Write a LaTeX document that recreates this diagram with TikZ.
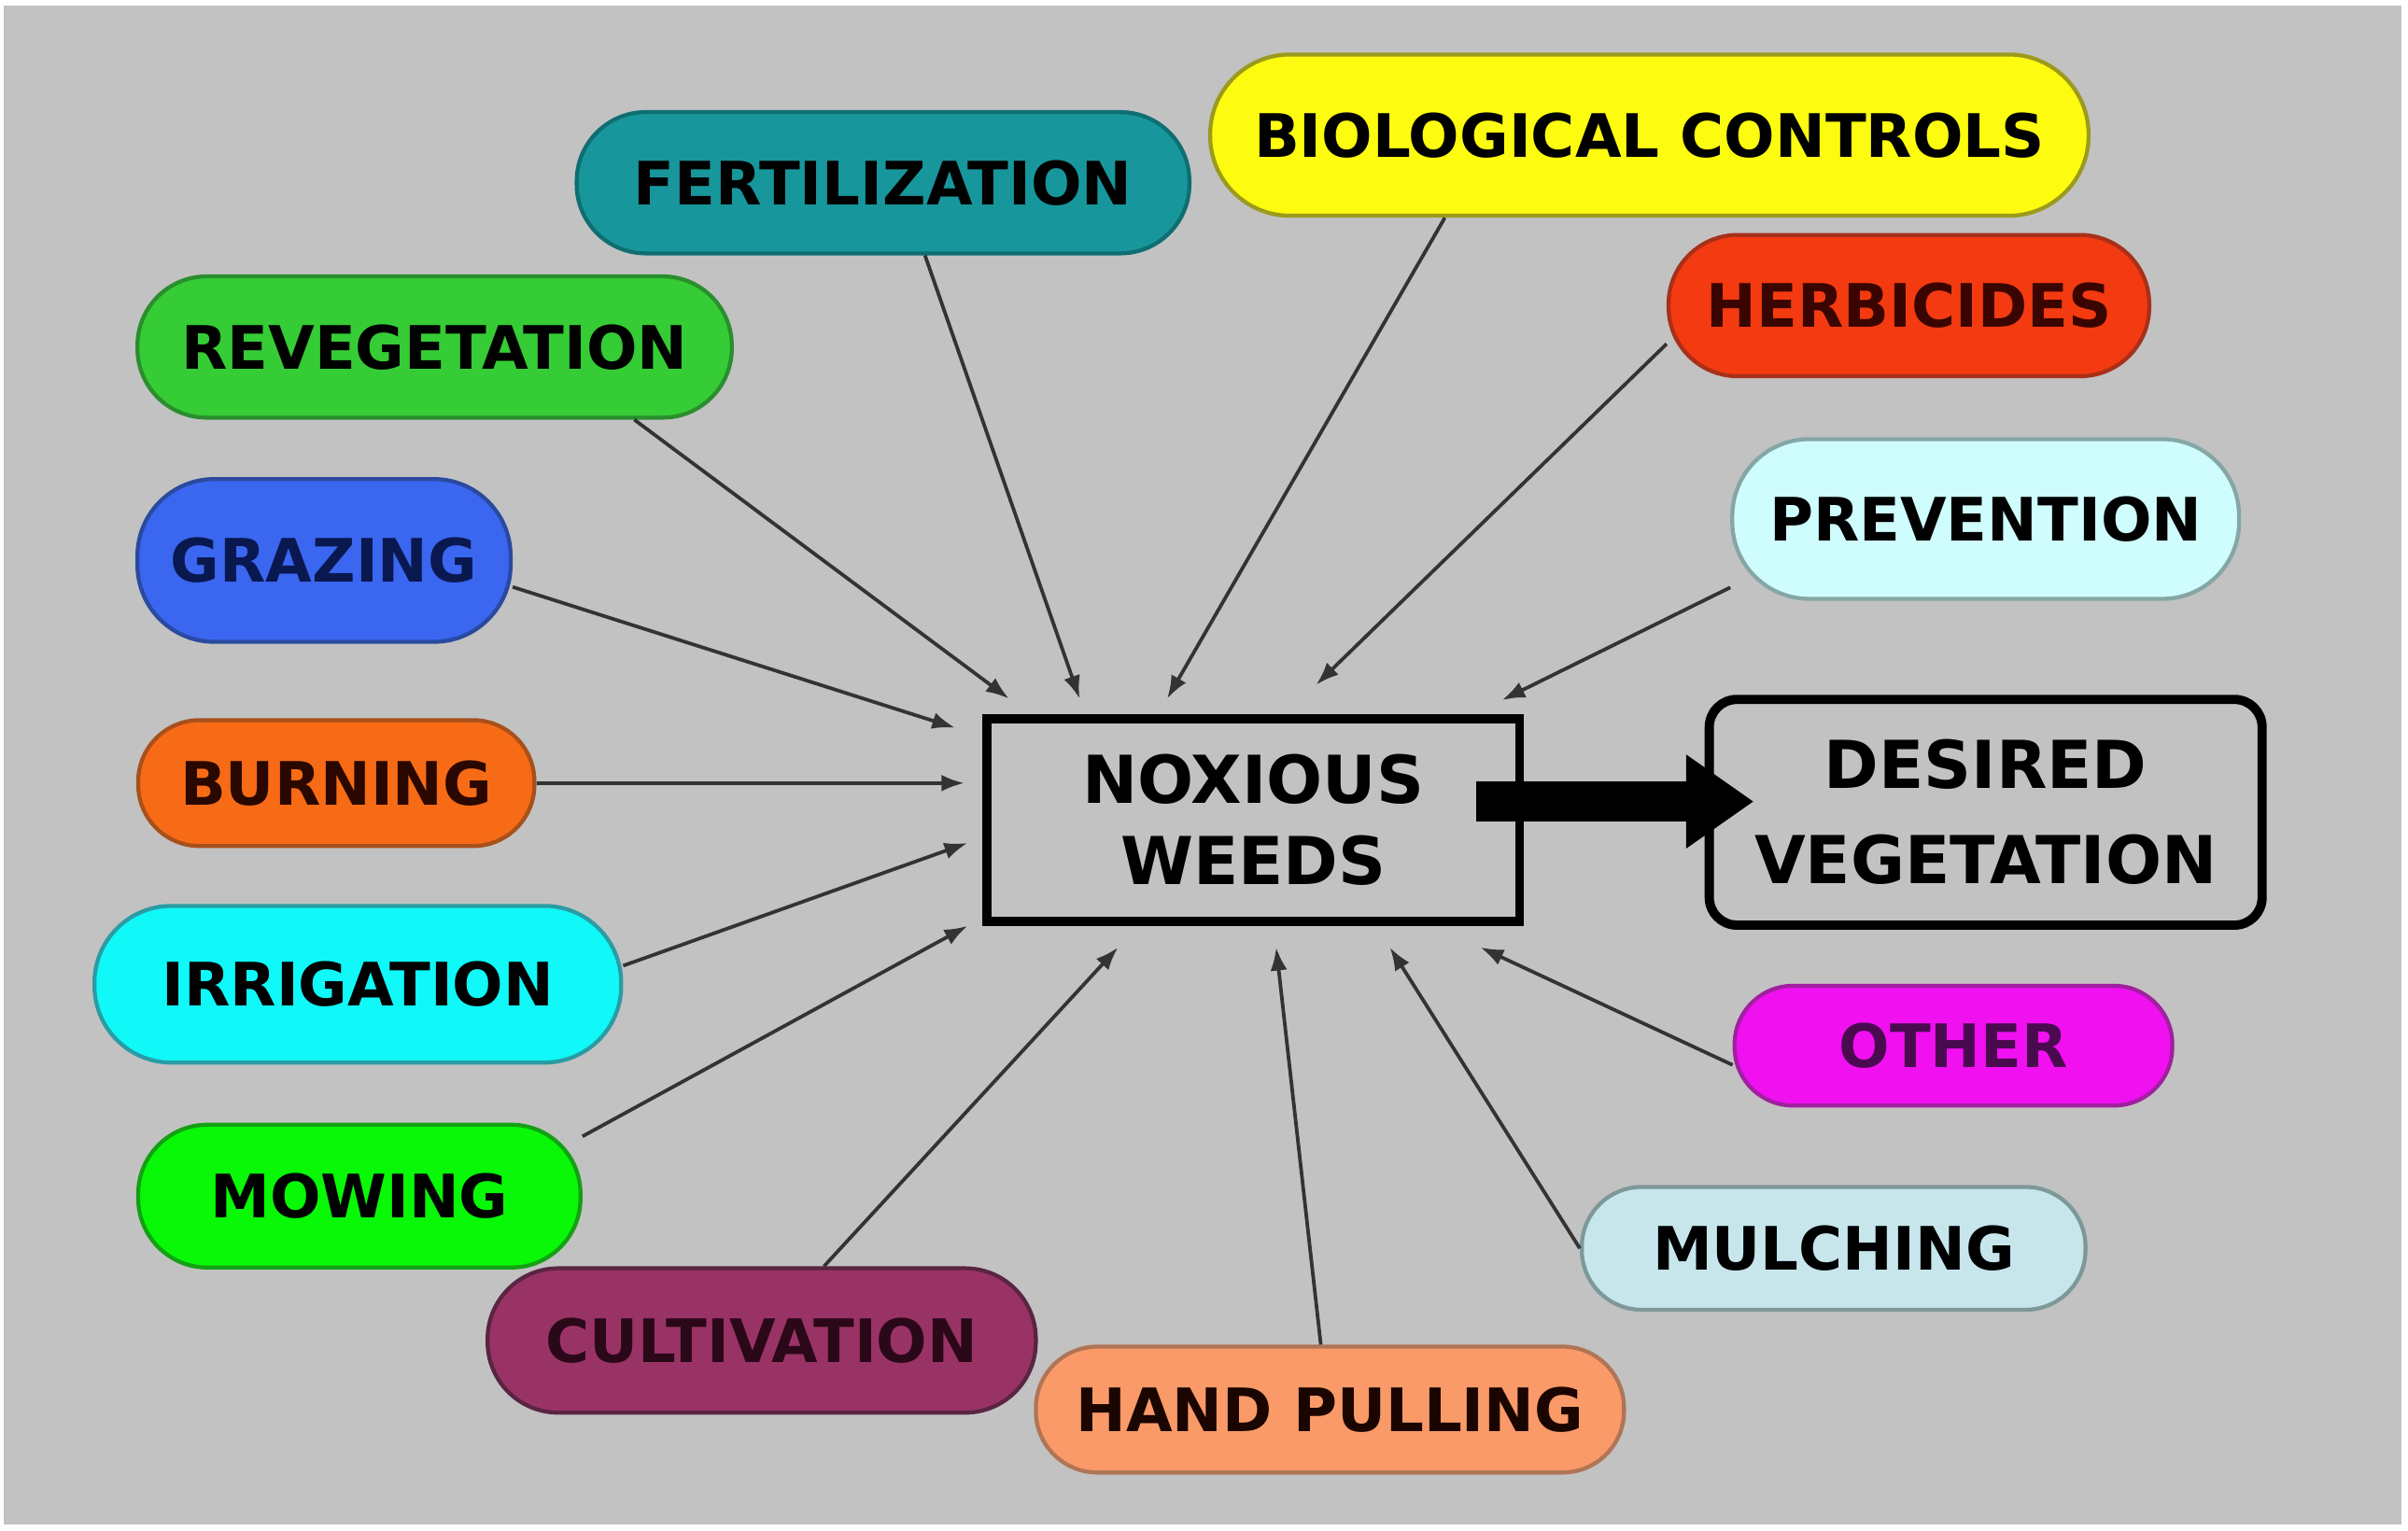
\documentclass[tikz,border=0pt]{standalone}
\usepackage{fontspec}
\setmainfont{DejaVu Sans}
\usetikzlibrary{arrows.meta}
\definecolor{bggray}{HTML}{C2C2C2}
\definecolor{linegray}{HTML}{333333}
\definecolor{cFert}{HTML}{17979C}\definecolor{dFert}{HTML}{0F6E72}
\definecolor{cBio}{HTML}{FDFC10}\definecolor{dBio}{HTML}{9C9A1E}
\definecolor{cReveg}{HTML}{35CC35}\definecolor{dReveg}{HTML}{2A8E2E}
\definecolor{cHerb}{HTML}{F43A10}\definecolor{dHerb}{HTML}{A8301A}
\definecolor{cGraz}{HTML}{3A66F0}\definecolor{dGraz}{HTML}{2A4AA0}\definecolor{tGraz}{HTML}{0A1850}
\definecolor{cPrev}{HTML}{CFFCFC}\definecolor{dPrev}{HTML}{86A6A6}
\definecolor{cBurn}{HTML}{F76B16}\definecolor{dBurn}{HTML}{A8501C}\definecolor{tBurn}{HTML}{2A0800}
\definecolor{cIrr}{HTML}{10F8F8}\definecolor{dIrr}{HTML}{2A9CA4}
\definecolor{cOther}{HTML}{F010F0}\definecolor{dOther}{HTML}{A020A0}\definecolor{tOther}{HTML}{4A0A50}
\definecolor{cMow}{HTML}{08F808}\definecolor{dMow}{HTML}{14A014}
\definecolor{cMulch}{HTML}{C6E6EC}\definecolor{dMulch}{HTML}{7E9898}
\definecolor{cCult}{HTML}{993366}\definecolor{dCult}{HTML}{5A2442}\definecolor{tCult}{HTML}{2A0818}
\definecolor{cHand}{HTML}{F99A68}\definecolor{dHand}{HTML}{B07456}\definecolor{tHand}{HTML}{1A0500}
\definecolor{tHerb}{HTML}{3A0500}
\tikzset{
  pill/.style={draw, line width=2.6pt, inner sep=0pt, align=center,
    font=\fontsize{39}{46}\selectfont\bfseries},
  mainbox/.style={draw=black, line width=6pt, inner sep=0pt, align=center,
    font=\fontsize{43}{62}\selectfont\bfseries},
  feed/.style={draw=linegray, line width=2.3pt, -{Latex[length=15pt,width=11pt]}},
  bigarrow/.style={draw=black, line width=26pt, -{Triangle[length=44pt,width=58pt]}}
}
\begin{document}
\begin{tikzpicture}[x=1pt,y=-1pt]
\useasboundingbox (0,0) rectangle (1568,997);
\fill[white] (0,0) rectangle (1568,997);
\fill[bggray] (2.5,3.6) rectangle (1563.7,992.7);

% central boxes
\node[mainbox, font=\fontsize{43}{53}\selectfont\bfseries, minimum width=347pt, minimum height=132pt] (nw) at (816,534) {NOXIOUS\\WEEDS};
\node[mainbox, rounded corners=18pt, minimum width=360pt, minimum height=147pt] (dv) at (1293,529) {DESIRED\\VEGETATION};

% pills
\node[pill, fill=cFert, draw=dFert, rounded corners=45pt, minimum width=399pt, minimum height=92pt] (fert) at (575,119) {FERTILIZATION};
\node[pill, fill=cBio, draw=dBio, rounded corners=52pt, minimum width=572pt, minimum height=105pt] (bio) at (1074,88) {BIOLOGICAL CONTROLS};
\node[pill, fill=cReveg, draw=dReveg, rounded corners=45pt, minimum width=387pt, minimum height=92pt] (reveg) at (283,226) {REVEGETATION};
\node[pill, fill=cHerb, draw=dHerb, text=tHerb, rounded corners=45pt, minimum width=313pt, minimum height=92pt] (herb) at (1243,199) {HERBICIDES};
\node[pill, fill=cGraz, draw=dGraz, text=tGraz, rounded corners=50pt, minimum width=243pt, minimum height=106pt] (graz) at (211,365) {GRAZING};
\node[pill, fill=cPrev, draw=dPrev, rounded corners=50pt, minimum width=330pt, minimum height=104pt] (prev) at (1293,338) {PREVENTION};
\node[pill, fill=cBurn, draw=dBurn, text=tBurn, rounded corners=40pt, minimum width=258pt, minimum height=82pt] (burn) at (219,510) {BURNING};
\node[pill, fill=cIrr, draw=dIrr, rounded corners=50pt, minimum width=343pt, minimum height=102pt] (irr) at (233,641) {IRRIGATION};
\node[pill, fill=cOther, draw=dOther, text=tOther, rounded corners=38pt, minimum width=285pt, minimum height=78pt] (other) at (1272,681) {OTHER};
\node[pill, fill=cMow, draw=dMow, rounded corners=45pt, minimum width=288pt, minimum height=93pt] (mow) at (234,779) {MOWING};
\node[pill, fill=cMulch, draw=dMulch, rounded corners=39pt, minimum width=328pt, minimum height=80pt] (mulch) at (1194,813) {MULCHING};
\node[pill, fill=cCult, draw=dCult, text=tCult, rounded corners=46pt, minimum width=357pt, minimum height=94pt] (cult) at (496,873) {CULTIVATION};
\node[pill, fill=cHand, draw=dHand, text=tHand, rounded corners=40pt, minimum width=383pt, minimum height=82pt] (hand) at (866,918) {HAND PULLING};

% arrow targets near the central box
\coordinate (aFert) at (703,455);
\coordinate (aBio) at (760,455);
\coordinate (aReveg) at (657,455);
\coordinate (aHerb) at (857,446);
\coordinate (aGraz) at (622,474);
\coordinate (aPrev) at (978,456);
\coordinate (aBurn) at (628,510);
\coordinate (aIrr) at (630,549);
\coordinate (aMow) at (630,603);
\coordinate (aCult) at (728,617);
\coordinate (aHand) at (831,617);
\coordinate (aMulch) at (905,617);
\coordinate (aOther) at (964,617);

\draw[feed] (fert.-60) -- (aFert);
\draw[feed] (bio.202.7) -- (aBio);
\draw[feed] (reveg.-20) -- (aReveg);
\draw[feed] (herb.189.5) -- (aHerb);
\draw[feed] (graz.-8.1) -- (aGraz);
\draw[feed] (prev.195.1) -- (aPrev);
\draw[feed] (burn.0) -- (aBurn);
\draw[feed] (irr.4.3) -- (aIrr);
\draw[feed] (mow.15.8) -- (aMow);
\draw[feed] (cult.50.3) -- (aCult);
\draw[feed] (hand.98.5) -- (aHand);
\draw[feed] (mulch.180.7) -- (aMulch);
\draw[feed] (other.185.6) -- (aOther);

% big arrow
\draw[bigarrow] ([xshift=-31pt,yshift=12pt]nw.east) -- ([xshift=32pt,yshift=7pt]dv.west);
\end{tikzpicture}
\end{document}
